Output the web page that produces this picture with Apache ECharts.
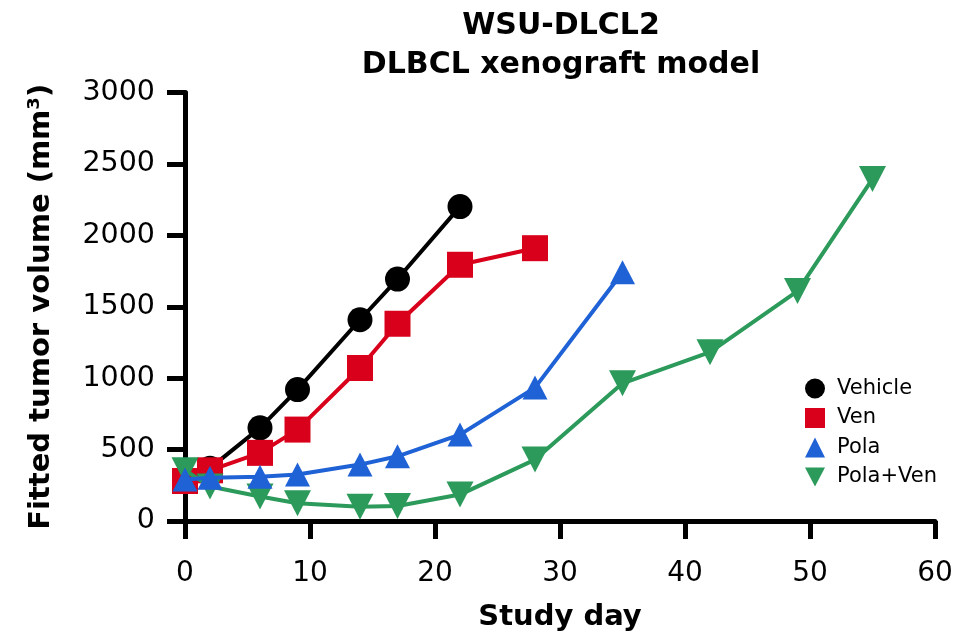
<!DOCTYPE html>
<html>
<head>
<meta charset="utf-8">
<script src="https://cdn.jsdelivr.net/npm/echarts@6/dist/echarts.min.js"></script>
<style>html,body{margin:0;padding:0;background:#fff}#c{width:968px;height:637px}</style>
</head>
<body>
<div id="c"></div>
<script>
// Data
const seriesNames = ['Vehicle', 'Ven', 'Pola', 'Pola+Ven'];
const vehicleDays = [0, 2, 6, 9, 14, 17, 22];
const vehicleVol  = [290, 370, 652, 920, 1409, 1694, 2201];
const venDays = [0, 2, 6, 9, 14, 17, 22, 28];
const venVol  = [280, 355, 477, 640, 1071, 1381, 1794, 1910];
const polaDays = [0, 2, 6, 9, 14, 17, 22, 28, 35];
const polaVol  = [290, 302, 309, 325, 395, 453, 605, 934, 1741];
const polaVenDays = [0, 2, 6, 9, 14, 17, 22, 28, 35, 42, 49, 55];
const polaVenVol  = [355, 241, 171, 124, 100, 105, 185, 430, 964, 1182, 1610, 2395];
const xTicks = [0, 10, 20, 30, 40, 50, 60];
const yTicks = [0, 500, 1000, 1500, 2000, 2500, 3000];

const zip = (xs, ys) => xs.map((x, i) => [x, ys[i]]);
const FONT = 'DejaVu Sans';
const downTri = 'path://M0,0 L10,0 L5,9.5 Z';
const colors = { Vehicle: '#000000', Ven: '#d9001b', Pola: '#1f62d6', 'Pola+Ven': '#2b9a5a' };

const chart = echarts.init(document.getElementById('c'), null, { renderer: 'canvas' });
const axisCommon = {
  axisLine: { show: true, onZero: false, lineStyle: { color: '#000', width: 5 } },
  axisTick: { show: true, inside: false, length: 18, lineStyle: { color: '#000', width: 5 } },
  splitLine: { show: false },
  nameTextStyle: { fontFamily: FONT, fontWeight: 'bold', fontSize: 29, color: '#000' }
};

chart.setOption({
  animation: false,
  backgroundColor: '#fff',
  title: [
    { text: 'WSU-DLCL2', left: 561, top: 11, textAlign: 'center', padding: 0,
      textStyle: { fontFamily: FONT, fontWeight: 'bold', fontSize: 30, color: '#000' } },
    { text: 'DLBCL xenograft model', left: 561, top: 50, textAlign: 'center', padding: 0,
      textStyle: { fontFamily: FONT, fontWeight: 'bold', fontSize: 30, color: '#000' } }
  ],
  grid: { left: 185, right: 33, top: 92.5, bottom: 115.5, containLabel: false },
  xAxis: Object.assign({}, axisCommon, {
    type: 'value', min: xTicks[0], max: xTicks[xTicks.length - 1], interval: 10,
    name: 'Study day', nameLocation: 'middle', nameGap: 82,
    axisLabel: { margin: 39, fontFamily: FONT, fontSize: 28, color: '#000' }
  }),
  yAxis: Object.assign({}, axisCommon, {
    type: 'value', min: yTicks[0], max: yTicks[yTicks.length - 1], interval: 500,
    name: 'Fitted tumor volume (mm³)', nameLocation: 'middle', nameGap: 129, nameRotate: 90,
    axisLabel: { margin: 30, fontFamily: FONT, fontSize: 28.5, color: '#000', formatter: v => String(v) }
  }),
  legend: {
    orient: 'vertical', left: 800, top: 373, itemWidth: 20, itemHeight: 20, itemGap: 8.5,
    textStyle: { fontFamily: FONT, fontSize: 21, color: '#000', lineHeight: 20, padding: [0, 0, 0, 7] },
    data: [
      { name: 'Vehicle', icon: 'circle' },
      { name: 'Ven', icon: 'rect' },
      { name: 'Pola', icon: 'triangle' },
      { name: 'Pola+Ven', icon: downTri }
    ]
  },
  series: [
    { name: 'Vehicle', type: 'line', data: zip(vehicleDays, vehicleVol), symbol: 'circle', symbolSize: 25,
      color: colors.Vehicle, lineStyle: { width: 4 }, z: 2 },
    { name: 'Ven', type: 'line', data: zip(venDays, venVol), symbol: 'rect', symbolSize: 26,
      color: colors.Ven, lineStyle: { width: 4 }, z: 3 },
    { name: 'Pola+Ven', type: 'line', data: zip(polaVenDays, polaVenVol), symbol: downTri, symbolSize: [27, 26],
      color: colors['Pola+Ven'], lineStyle: { width: 4 }, z: 4 },
    { name: 'Pola', type: 'line', data: zip(polaDays, polaVol), symbol: 'triangle', symbolSize: [25, 24],
      color: colors.Pola, lineStyle: { width: 4 }, z: 5 }
  ]
});
</script>
</body>
</html>
